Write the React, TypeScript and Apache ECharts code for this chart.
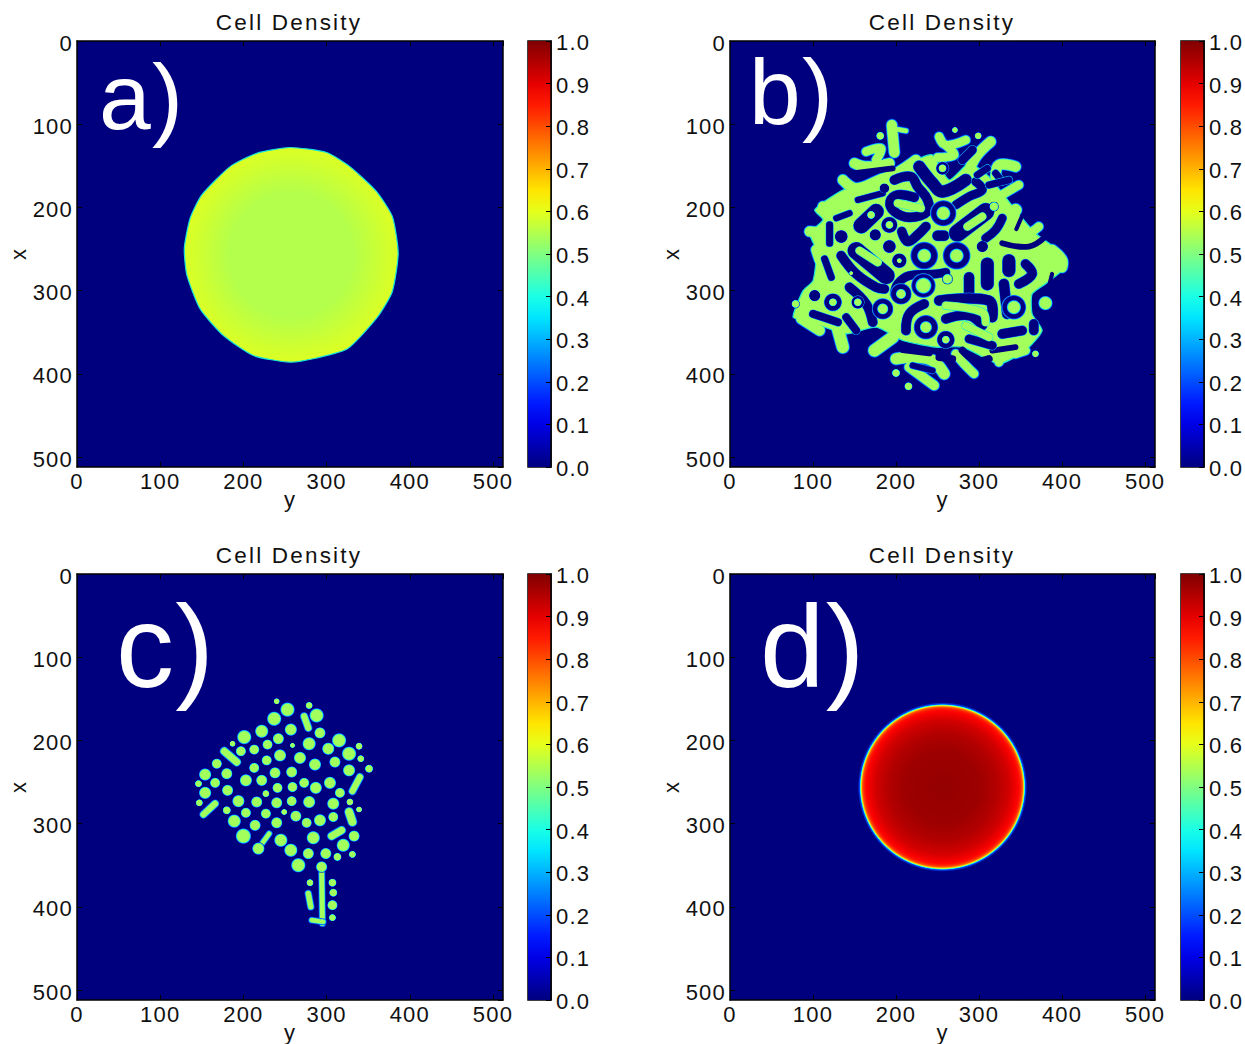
import React, { useEffect, useRef } from "react";
import * as echarts from "echarts";

const panelTitle = "Cell Density";
const panelLetters = ["a)", "b)", "c)", "d)"];

// panel a: outline of the colony [y, x]
const outlineA = [[256,128],[300,134],[328,151],[360,181],[379,211],[386,255],[379,301],[361,332],[325,370],[288,381],[256,386],[212,378],[176,354],[148,322],[132,281],[129,249],[136,213],[150,185],[184,151],[216,135]];
const densityCentreA = 0.55;
const densityEdgeA = 0.595;

// panel b: body outline, ridges [width, ...points], dark channels, dark gaps at the rim, dark pockets [y,x,r], spots
const bodyB = [[102,203],[136,179],[180,167],[224,143],[244,137],[264,167],[288,147],[312,163],[344,203],[368,231],[400,255],[404,272],[380,292],[364,304],[364,328],[376,348],[356,372],[324,388],[280,368],[248,368],[208,360],[176,344],[140,352],[92,336],[76,332],[88,300],[100,288],[104,252],[96,231],[112,215]];
const ridgesB: any[] = [
  [12,[195,101],[198,134]],[5,[195,105],[212,108]],
  [12,[150,147],[164,151],[192,147]],[10,[164,133],[182,129],[176,143]],
  [12,[136,167],[152,177],[180,167],[200,159],[224,143]],
  [10,[252,115],[260,125],[284,119]],[10,[260,125],[270,137],[250,140]],
  [12,[314,121],[298,137],[288,155]],
  [12,[344,151],[324,149],[320,163]],
  [10,[348,173],[324,187]],
  [14,[344,203],[332,223]],
  [10,[372,223],[356,233],[340,233]],
  [12,[388,251],[400,263],[400,272]],
  [12,[112,199],[124,213],[142,199]],
  [12,[96,229],[120,231]],[12,[104,251],[108,263]],
  [14,[130,346],[136,368]],
  [14,[174,372],[196,356]],
  [13,[200,382],[224,380],[244,384],[258,400]],
  [11,[216,392],[246,414]],
  [10,[272,376],[282,388],[294,400]],
  [10,[320,368],[324,386]],
  [10,[344,376],[356,372]],
  [12,[86,334],[108,348]],
];
const channelsB: any[] = [
  [14,[228,151],[244,171],[256,181],[284,167]],
  [11,[198,167],[218,163],[226,175],[238,191],[238,205],[216,212],[198,205],[193,193],[202,185],[222,188]],
  [18,[158,222],[176,205]],
  [11,[207,229],[214,241],[226,233],[236,223]],
  [12,[250,234],[258,234]],
  [20,[274,231],[308,205]],
  [10,[328,213],[320,227],[308,237]],
  [10,[296,169],[304,179],[288,187],[272,197]],
  [8,[310,153],[298,161]],[8,[320,159],[328,169]],
  [10,[280,143],[292,131]],[8,[312,173],[336,167]],
  [7,[128,213],[144,207]],[8,[120,221],[120,243]],
  [7,[154,191],[184,183]],
  [20,[152,252],[188,282]],
  [11,[134,258],[152,280],[176,296],[186,298]],
  [8,[114,262],[122,284]],
  [9,[100,328],[130,338]],
  [11,[144,296],[164,316],[172,338]],[9,[140,332],[152,348]],
  [10,[198,304],[202,292],[216,282],[248,280],[260,278]],
  [12,[288,284],[288,304]],[12,[252,312],[312,312],[316,332]],
  [15,[310,268],[310,292]],[15,[336,264],[336,276]],
  [11,[356,268],[364,280],[348,292]],
  [12,[330,292],[334,328]],
  [11,[366,340],[366,348]],
  [11,[328,352],[352,348]],
  [11,[212,348],[216,328],[234,316]],
  [11,[260,334],[288,330],[304,342]],
  [10,[288,358],[316,366]],
  [7,[220,390],[244,396]],
];
const gapsB: any[] = [
  [7,[148,159],[196,153]],
  [10,[208,370],[240,374]],[9,[252,380],[268,382]],
  [9,[280,372],[296,384],[312,382]],
  [7,[316,372],[344,368]],[5,[388,280],[382,304]],
  [7,[328,243],[360,247],[380,235]],[5,[352,210],[345,226]],
];
const pocketsB = [[256,153,8],[186,177,6],[134,235,8],[175,233,7],[192,247,8],[192,221,10],[257,207,16],[204,264,9],[234,258,17],[273,258,17],[304,247,7],[102,306,7],[124,314,11],[154,314,8],[184,322,13],[206,304,13],[233,294,15],[342,320,15],[236,344,15],[260,359,11]];
const spotsB = [[181,114,4],[271,107,3],[299,114,3.5],[318,199,4.5],[368,376,3.5],[215,415,4],[200,399,4],[79,316,4],[146,279,2],[256,153,4],[170,209,4],[192,221,4],[257,207,7],[204,264,2.5],[234,258,7],[273,258,7],[124,314,4],[154,314,4],[184,322,5.5],[206,304,5],[233,294,8],[262,286,5],[342,320,7],[380,315,7],[236,344,6],[260,359,4]];
const inletsB: any[] = [
  [9,[156,252],[178,266]],[9,[286,223],[304,211]],[9,[202,195],[230,201]],
  [9,[260,318],[304,326],[308,338]],[9,[284,342],[312,356]],
];

// panel c: droplets [y, x, r] and elongated droplets [width, ...points]
const dotsC = [[240,153,3],[253,163,7],[279,158,3.5],[237,174,7],[288,170,7],[222,189,6.5],[257,187,6],[292,191,5.5],[201,196,7],[242,198,5.5],[187,204,3],[229,205,5],[259,206,2.5],[279,204,6.5],[315,200,7],[339,207,3.5],[197,213,5],[213,211,5],[302,210,6],[327,216,7],[341,222,3.5],[244,218,6],[228,224,5],[268,221,6],[168,228,5],[213,233,5],[286,229,6],[310,226,5.5],[327,236,6],[351,234,4],[154,241,6],[180,240,5.5],[238,239,5.5],[258,238,5.5],[203,248,6],[222,248,5.5],[166,251,5],[146,252,3.5],[273,251,5],[304,251,6],[241,257,5],[259,256,5],[287,257,6],[154,263,6],[181,260,5.5],[316,263,5],[227,264,3.5],[194,273,6],[216,274,5.5],[240,275,5.5],[258,273,5],[279,274,6],[308,276,6],[328,274,3.5],[147,275,3.5],[180,284,4],[339,283,3],[203,287,5],[227,288,5],[249,286,3],[263,291,5.5],[308,292,5],[189,297,6.5],[214,302,5.5],[240,299,5.5],[276,299,5],[292,296,6],[200,315,7.5],[245,320,6.5],[284,317,6.5],[333,315,5.5],[320,326,6.5],[257,332,6.5],[278,336,5.5],[299,336,5.5],[313,340,4],[331,337,3.5],[266,350,7],[280,371,3.5],[307,371,4],[308,383,4],[307,398,5],[307,413,3.5],[218,330,6],[294,352,5.5]];
const sticksC: any[] = [
  [8,[177,213],[192,226]],[7,[273,171],[278,185]],[7,[340,244],[331,261]],[7,[152,289],[166,276]],
  [9,[327,286],[331,298]],[8,[318,308],[306,315]],[5,[231,312],[218,330]],[5.5,[294,352],[295,420]],
  [5,[282,416],[296,418]],[6,[278,384],[281,400]],
];

// panel d: radial density profile
const centreD = [256, 256];
const radiusD = 100;
const radiiD = [0, 0.45, 0.65, 0.8, 0.88, 0.92, 0.945, 0.965, 0.975, 0.983, 0.99, 0.997, 1.02];
const densityD = [0.98, 0.97, 0.95, 0.92, 0.89, 0.87, 0.84, 0.78, 0.68, 0.55, 0.38, 0.2, 0];

const colormapSteps = [0, 0.05, 0.1, 0.15, 0.2, 0.25, 0.3, 0.35, 0.4, 0.45, 0.5, 0.55, 0.6, 0.65, 0.7, 0.75, 0.8, 0.85, 0.9, 0.95, 1];

const FONT = "Liberation Sans";
const clamp = (v: number) => Math.max(0, Math.min(1, v));
const jet = (v: number) => {
  const c = (k: number) => Math.round(255 * clamp(1.5 - Math.abs(4 * v - k)));
  return `rgb(${c(3)},${c(2)},${c(1)})`;
};
const GREEN = jet(0.535);
const HALO_BLUE = "#0a40ff";
const HALO_CYAN = "#18e6d8";
const DARK = "#00007f";

const panelBoxes = [
  { left: 77, top: 41, size: 426 }, { left: 730, top: 41, size: 425 },
  { left: 77, top: 574, size: 426 }, { left: 730, top: 574, size: 425 },
];
const SIZE = 426;
const barBoxes = [
  { left: 528, top: 41 }, { left: 1181, top: 41 }, { left: 528, top: 574 }, { left: 1181, top: 574 },
];

const strokesSeries = (items: any[], grid: number, layers: [number, string][], z: number) => ({
  type: "custom", xAxisIndex: grid * 2, yAxisIndex: grid * 2, clip: true, z, silent: true,
  data: items.map((_, i) => [i, 0]),
  renderItem: (params: any, api: any) => {
    const it = items[api.value(0)];
    const w = api.size([it[0], 0])[0];
    const pts = it.slice(1).map((p: number[]) => api.coord(p));
    return {
      type: "group",
      children: layers.map(([extra, color]) => ({
        type: "polyline", shape: { points: pts, smooth: pts.length > 2 ? 0.4 : 0 },
        style: { fill: "none", stroke: color, lineWidth: w + extra, lineCap: "round", lineJoin: "round" },
      })),
    };
  },
});

const discSeries = (items: number[][], grid: number, fill: any, scale: number, z: number) => ({
  type: "custom", xAxisIndex: grid * 2, yAxisIndex: grid * 2, clip: true, z, silent: true,
  data: items.map((_, i) => [i, 0]),
  renderItem: (params: any, api: any) => {
    const it = items[api.value(0)];
    const c = api.coord([it[0], it[1]]);
    return { type: "circle", shape: { cx: c[0], cy: c[1], r: api.size([it[2], 0])[0] * scale }, style: { fill } };
  },
});

const polygonSeries = (points: number[][], grid: number, style: any, z: number) => ({
  type: "custom", xAxisIndex: grid * 2, yAxisIndex: grid * 2, clip: true, z, silent: true,
  data: [[0, 0]],
  renderItem: (params: any, api: any) => ({
    type: "polygon",
    shape: { points: points.map((p) => api.coord(p)), smooth: 0.2 },
    style,
  }),
});

const dotFill = new echarts.graphic.RadialGradient(0.5, 0.5, 0.5, [
  { offset: 0, color: GREEN }, { offset: 0.72, color: GREEN }, { offset: 0.84, color: HALO_CYAN },
  { offset: 0.93, color: HALO_BLUE }, { offset: 1, color: DARK },
]);
const pocketFill = new echarts.graphic.RadialGradient(0.5, 0.5, 0.5, [
  { offset: 0, color: DARK }, { offset: 0.86, color: DARK }, { offset: 0.93, color: HALO_BLUE },
  { offset: 1, color: HALO_CYAN },
]);

const greenHalo: [number, string][] = [[2.6, HALO_BLUE], [1.2, HALO_CYAN]];
const greenCore: [number, string][] = [[0, GREEN]];
const darkLayers: [number, string][] = [[1.4, HALO_CYAN], [0.7, HALO_BLUE], [0, DARK]];

const imageAxes = (grid: number) => {
  const shared = {
    type: "value", min: 0, max: 512, interval: 100, gridIndex: grid, z: 5,
    axisLine: { show: true, onZero: false, lineStyle: { color: "#000", width: 1.5 } },
    axisTick: { show: true, inside: true, length: 5, lineStyle: { color: "#000", width: 1 } },
    splitLine: { show: false },
  };
  const label = { color: "#111", fontFamily: FONT, fontSize: 22, showMaxLabel: false };
  const nameStyle = { color: "#111", fontFamily: FONT, fontSize: 22 };
  return {
    x: [
      { ...shared, position: "bottom", axisLabel: { ...label, margin: 3 }, name: "y", nameLocation: "middle", nameGap: 21, nameMoveOverlap: false, nameTextStyle: nameStyle },
      { ...shared, position: "top", axisLabel: { show: false } },
    ],
    y: [
      { ...shared, inverse: true, position: "left", axisLabel: { ...label, margin: 4, verticalAlign: "top", lineHeight: 4 }, name: "x", nameLocation: "middle", nameGap: 48, nameTextStyle: nameStyle },
      { ...shared, inverse: true, position: "right", axisLabel: { show: false } },
    ],
  };
};

export default function App() {
  const ref = useRef<HTMLDivElement>(null);
  useEffect(() => {
    const chart = echarts.init(ref.current!, null, { renderer: "svg" });
    const grids: any[] = [];
    const xAxes: any[] = [];
    const yAxes: any[] = [];
    panelBoxes.forEach((b, i) => {
      grids.push({ left: b.left, top: b.top, width: b.size, height: SIZE, show: true, backgroundColor: DARK, borderWidth: 0, outerBoundsMode: "none" });
      const a = imageAxes(i);
      xAxes.push(...a.x);
      yAxes.push(...a.y);
    });
    barBoxes.forEach((b, i) => {
      grids.push({ left: b.left, top: b.top, width: 23, height: SIZE, show: true, borderColor: "#000", borderWidth: 1.5, outerBoundsMode: "none" });
      xAxes.push({ type: "value", gridIndex: 4 + i, min: 0, max: 1, show: false });
      xAxes.push({ type: "value", gridIndex: 4 + i, min: 0, max: 1, show: false });
      const bar = {
        type: "value", gridIndex: 4 + i, min: 0, max: 1, interval: 0.1, position: "right", z: 5,
        axisLine: { show: true, onZero: false, lineStyle: { color: "#000", width: 1.5 } },
        axisTick: { show: true, inside: true, length: 5, lineStyle: { color: "#000", width: 1 } },
        splitLine: { show: false },
        axisLabel: { color: "#111", fontFamily: FONT, fontSize: 22, margin: 5, verticalAlign: "top", lineHeight: 3, formatter: (v: number) => v.toFixed(1) },
      };
      yAxes.push(bar);
      yAxes.push({ ...bar, show: false });
    });

    const cbFill = new echarts.graphic.LinearGradient(0, 1, 0, 0, colormapSteps.map((v) => ({ offset: v, color: jet(v) })));
    const series: any[] = [];

    barBoxes.forEach((_, i) => {
      series.push({
        type: "custom", xAxisIndex: (4 + i) * 2, yAxisIndex: (4 + i) * 2, silent: true, z: 2,
        data: [[0, 0]],
        renderItem: (p: any, api: any) => {
          const tl = api.coord([0, 1]);
          const br = api.coord([1, 0]);
          return { type: "rect", shape: { x: tl[0], y: tl[1], width: br[0] - tl[0], height: br[1] - tl[1] }, style: { fill: cbFill } };
        },
      });
    });

    // a
    series.push(polygonSeries(outlineA, 0, {
      fill: new echarts.graphic.RadialGradient(0.5, 0.5, 0.52, [
        { offset: 0, color: jet(densityCentreA) }, { offset: 0.55, color: jet(densityCentreA) }, { offset: 1, color: jet(densityEdgeA) },
      ]),
      stroke: HALO_CYAN, lineWidth: 1.2,
    }, 3));

    // b: halos first, then body and ridges, then holes on top
    series.push(strokesSeries(ridgesB, 1, greenHalo, 3));
    series.push(polygonSeries(bodyB, 1, { fill: GREEN, stroke: HALO_CYAN, lineWidth: 1.2 }, 4));
    series.push(strokesSeries(ridgesB, 1, greenCore, 5));
    series.push(strokesSeries(gapsB, 1, [[0, DARK]], 6));
    series.push(strokesSeries(channelsB, 1, darkLayers, 7));
    series.push(discSeries(pocketsB, 1, pocketFill, 1, 8));
    series.push(strokesSeries(inletsB, 1, [[1.2, HALO_CYAN], [0, GREEN]], 9));
    series.push(discSeries(spotsB, 1, dotFill, 1.3, 10));

    // c
    series.push(strokesSeries(sticksC, 2, [...greenHalo, ...greenCore], 3));
    series.push(discSeries(dotsC, 2, dotFill, 1.3, 4));

    // d
    series.push({
      type: "custom", xAxisIndex: 6, yAxisIndex: 6, clip: true, z: 3, silent: true,
      data: [[centreD[0], centreD[1]]],
      renderItem: (p: any, api: any) => {
        const c = api.coord([api.value(0), api.value(1)]);
        const last = radiiD[radiiD.length - 1];
        const r = api.size([radiusD * last, 0])[0];
        return {
          type: "circle", shape: { cx: c[0], cy: c[1], r },
          style: {
            fill: new echarts.graphic.RadialGradient(0.5, 0.5, 0.5, radiiD.map((x, i) => ({ offset: x / last, color: jet(densityD[i]) }))),
          },
        };
      },
    });

    const titles = panelBoxes.map((b) => ({
      type: "text", x: b.left + 212, y: b.top - 30, z: 50,
      style: { text: panelTitle, fill: "#111", font: `22.5px "${FONT}"`, textAlign: "center", textVerticalAlign: "top" },
    }));

    const letterBoxes = [
      { left: 99, top: 50, size: 93 }, { left: 749, top: 45, size: 93 },
      { left: 116, top: 589, size: 116 }, { left: 760, top: 589, size: 116 },
    ];
    const letters = panelLetters.map((t, i) => ({
      type: "text", x: letterBoxes[i].left, y: letterBoxes[i].top, z: 50,
      style: { text: t, fill: "#fff", font: `${letterBoxes[i].size}px "${FONT}"` },
    }));

    chart.setOption({
      animation: false,
      backgroundColor: "#fff",
      grid: grids,
      xAxis: xAxes,
      yAxis: yAxes,
      series,
      graphic: [...titles, ...letters],
    });
    return () => chart.dispose();
  }, []);
  return (
    <>
      <style>{`svg text { letter-spacing: 1.2px; } svg text[style*="22.5px"] { letter-spacing: 2.2px; }`}</style>
      <div ref={ref} style={{ position: "absolute", left: 0, top: 0, width: 1245, height: 1044 }} />
    </>
  );
}
